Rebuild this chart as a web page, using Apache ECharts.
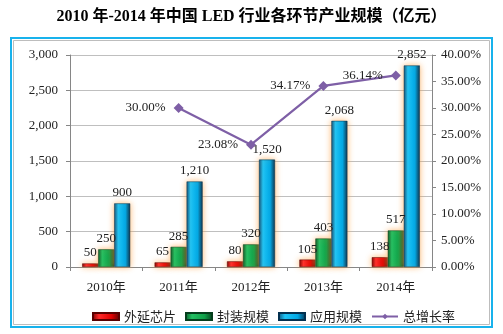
<!DOCTYPE html>
<html><head><meta charset="utf-8">
<script src="https://cdn.jsdelivr.net/npm/echarts@6/dist/echarts.min.js"></script>
<style>html,body{margin:0;padding:0;background:#fff}#c{width:503px;height:334px}</style>
</head><body><div id="c"></div>
<script>
const titleText = '2010 年-2014 年中国 LED 行业各环节产业规模（亿元）';
const categories = ['2010年','2011年','2012年','2013年','2014年'];
const chipValues = [50, 65, 80, 105, 138];
const packageValues = [250, 285, 320, 403, 517];
const applicationValues = [900, 1210, 1520, 2068, 2852];
const growthRates = [null, 30.00, 23.08, 34.17, 36.14];
const seriesNames = ['外延芯片','封装规模','应用规模','总增长率'];

const serif = '"Liberation Serif","Times New Roman","Noto Sans CJK SC",serif';
function grad(c0,c1,c2,c3){
  return new echarts.graphic.LinearGradient(0,0,1,0,[
    {offset:0,color:c0},{offset:0.25,color:c1},{offset:0.7,color:c2},{offset:1,color:c3}]);
}
const glow = {shadowBlur:6, shadowColor:'rgba(255,165,70,0.8)'};
const barLabel = {show:true, position:'top', distance:4, color:'#222', fontFamily:serif, fontSize:13,
  formatter: p => p.value.toLocaleString('en-US')};

const chart = echarts.init(document.getElementById('c'), null, {renderer:'canvas'});
chart.setOption({
  animation:false,
  backgroundColor:'#fff',
  title:{text:titleText, left:'center', top:4,
    textStyle:{fontFamily:serif, fontWeight:'bold', fontSize:16, color:'#000'}},
  graphic:[
    {type:'rect', shape:{x:11,y:38,width:481,height:289}, style:{fill:'none', stroke:'#18B2EC', lineWidth:2}, z:-1},
    {type:'rect', shape:{x:13.5,y:40.5,width:476,height:284}, style:{fill:'none', stroke:'#BDBDBD', lineWidth:1}, z:-1}
  ],
  grid:{left:70, right:71, top:55, bottom:67},
  legend:{left:87, top:305, itemWidth:26, itemHeight:7, itemGap:9,
    textStyle:{fontFamily:'"Noto Sans CJK SC",sans-serif', fontSize:13, color:'#222'},
    data:[{name:seriesNames[0], icon:'rect'},{name:seriesNames[1], icon:'rect'},{name:seriesNames[2], icon:'rect'},
      {name:seriesNames[3]}]},
  xAxis:{type:'category', data:categories,
    axisLine:{lineStyle:{color:'#868686'}}, axisTick:{show:true, length:4, lineStyle:{color:'#868686'}},
    axisLabel:{fontFamily:serif, fontSize:13, color:'#222', margin:14}},
  yAxis:[
    {type:'value', min:0, max:3000, interval:500,
      axisLine:{show:true, lineStyle:{color:'#868686'}}, axisTick:{show:true, length:4, lineStyle:{color:'#868686'}},
      splitLine:{lineStyle:{color:'#BFBFBF'}},
      axisLabel:{fontFamily:serif, fontSize:13, color:'#222', margin:12, formatter:v=>v.toLocaleString('en-US')}},
    {type:'value', min:0, max:40, interval:5, position:'right',
      axisLine:{show:true, lineStyle:{color:'#868686'}}, axisTick:{show:true, length:4, lineStyle:{color:'#868686'}},
      splitLine:{show:false},
      axisLabel:{fontFamily:serif, fontSize:13, color:'#222', margin:9, formatter:v=>v.toFixed(2)+'%'}}
  ],
  series:[
    {name:seriesNames[0], type:'bar', data:chipValues, barWidth:16, barGap:'0%',
      itemStyle:Object.assign({color:grad('#7a0000','#ff2a2a','#e00000','#5a0000'), borderColor:'#5a0000', borderWidth:0.5}, glow),
      label:barLabel},
    {name:seriesNames[1], type:'bar', data:packageValues, barWidth:16, barGap:'0%',
      itemStyle:Object.assign({color:grad('#0a5a28','#22c062','#0fa048','#053d1c'), borderColor:'#053d1c', borderWidth:0.5}, glow),
      label:barLabel},
    {name:seriesNames[2], type:'bar', data:applicationValues, barWidth:16, barGap:'0%',
      itemStyle:Object.assign({color:grad('#0b4f7a','#1ec4f6','#00a8e6','#03304f'), borderColor:'#03304f', borderWidth:0.5}, glow),
      label:barLabel},
    {name:seriesNames[3], type:'line', yAxisIndex:1, data:growthRates, z:5,
      symbol:'diamond', symbolSize:10, connectNulls:false,
      lineStyle:{color:'#7E5FA6', width:2.2}, itemStyle:{color:'#7E5FA6'},
      label:{show:true, position:'left', distance:8, color:'#222', fontFamily:serif, fontSize:13,
        formatter:p=>p.value.toFixed(2)+'%'}}
  ]
});
</script></body></html>
